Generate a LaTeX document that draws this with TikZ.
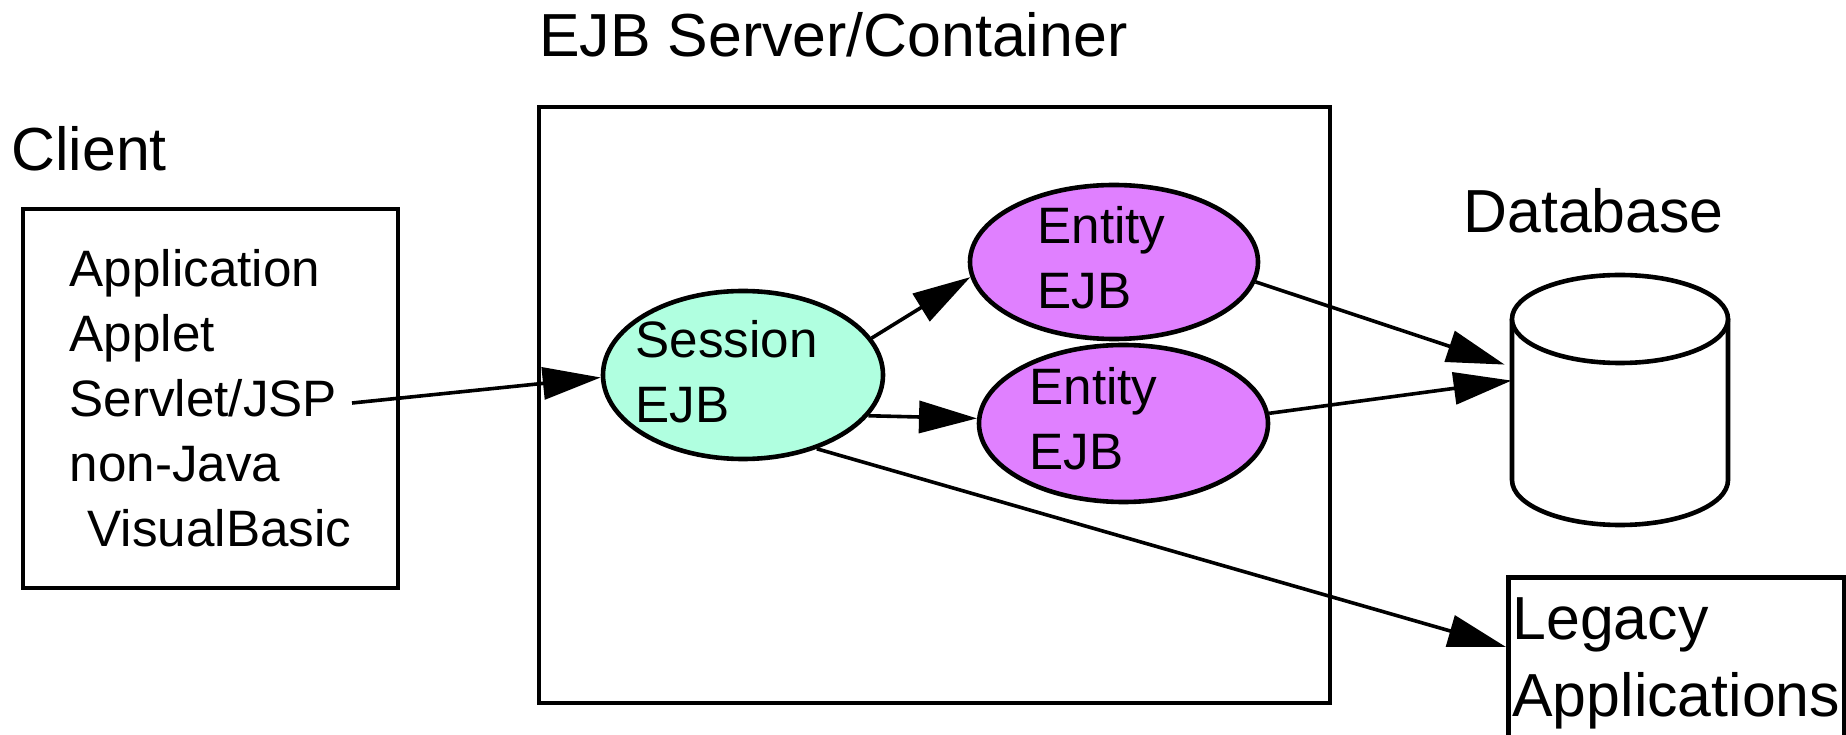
\documentclass[tikz,border=0pt]{standalone}
\usepackage{fontspec}
\setmainfont{Liberation Sans}
\usetikzlibrary{arrows.meta,shapes.geometric,calc}
\definecolor{sessionfill}{RGB}{176,255,224}
\definecolor{entityfill}{RGB}{224,128,255}
\begin{document}
\begin{tikzpicture}[x=0.5pt,y=0.5pt,
  bodyfont/.style={font=\fontsize{25.6pt}{32.5pt}\selectfont},
  bigfont/.style={font=\fontsize{30.4pt}{38.5pt}\selectfont},
  heading/.style={bigfont, anchor=base west, inner sep=0pt},
  frame/.style={draw=black, line width=2.3pt, rectangle, inner sep=0pt},
  bean/.style={ellipse, draw=black, line width=2.3pt, inner sep=0pt},
  beantext/.style={bodyfont, align=left, anchor=west, inner sep=0pt},
  link/.style={draw=black, line width=1.8pt, -{Triangle[length=29pt,width=16pt]}},
]
\useasboundingbox (0,0) rectangle (1846,734);
\clip (0,0) rectangle (1846,734);

% headings
\node[heading] (servertitle) at (539,677) {EJB Server/Container};
\node[heading] (clienttitle) at (11,563) {Client};
\node[heading] (dbtitle) at (1463,501) {Database};

% client box with the kinds of clients
\node[frame, bodyfont, align=left, minimum width=187.5pt, minimum height=189.5pt] (client) at (210.5,335.5)
  {Application\\Applet\\Servlet/JSP\\non-Java\\\hspace*{9pt}VisualBasic};
\coordinate (jspout) at (352,331);

% server / container frame
\node[frame, minimum width=395.5pt, minimum height=298pt] (server) at (934.5,329) {};

% enterprise beans
\node[bean, fill=sessionfill, minimum width=140pt, minimum height=84pt] (session) at (743,359) {};
\node[bean, fill=entityfill, minimum width=144pt, minimum height=77pt] (entityA) at (1114,472) {};
\node[bean, fill=entityfill, minimum width=144.5pt, minimum height=78.5pt] (entityB) at (1123.5,310.5) {};

\node[beantext] (sessionlabel) at ($(session.center)+(-108,3.4)$) {Session\\EJB};
\node[beantext] (entityAlabel) at ($(entityA.center)+(-77,3.9)$) {Entity\\EJB};
\node[beantext] (entityBlabel) at ($(entityB.center)+(-94.5,4.4)$) {Entity\\EJB};

% database cylinder
\node[minimum width=108pt, minimum height=125pt, inner sep=0pt] (db) at (1620,334) {};
\draw[line width=2.3pt, fill=white] (1512,415) -- (1512,254)
  arc[start angle=180, end angle=360, x radius=54pt, y radius=22.5pt] -- (1728,415);
\draw[line width=2.3pt, fill=white] (1620,415) ellipse[x radius=54pt, y radius=22pt];

% legacy applications
\node[frame, bigfont, align=left, anchor=north west, minimum width=168pt, inner ysep=10pt, inner xsep=0pt]
  (legacy) at (1506,159) {Legacy\\Applications};

% connectors
\draw[link] (jspout) -- (session.181);
\draw[link] (session.16) -- (entityA.186);
\draw[link] (session.342) -- (entityB.178);
\draw[link] (session.315) -- ($(legacy.north west)+(0,-72)$);
\draw[link] (entityA.352) -- ($(db.north west)+(-7,-90)$);
\draw[link] (entityB.4) -- ($(db.north west)+(0,-106)$);
\end{tikzpicture}
\end{document}
